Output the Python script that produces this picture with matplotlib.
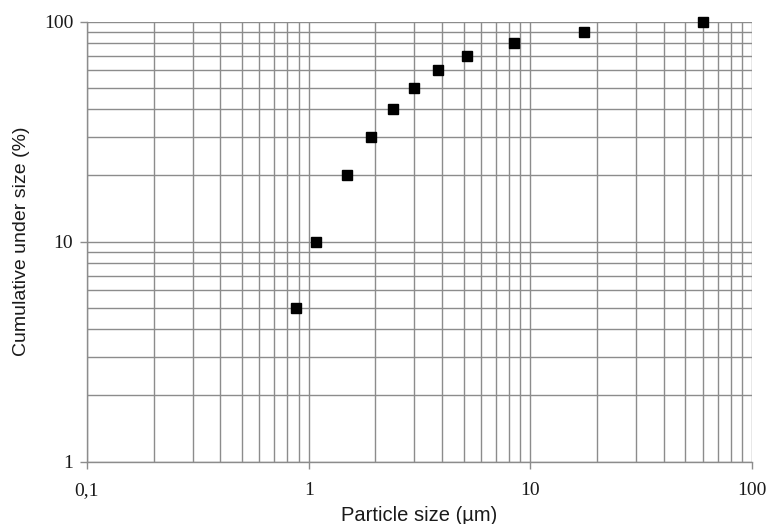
import numpy as np
import matplotlib.pyplot as plt
from matplotlib.ticker import LogLocator, FixedLocator, NullFormatter

# particle size distribution (cumulative undersize)
size_um = [0.88, 1.08, 1.49, 1.92, 2.39, 3.0, 3.82, 5.2, 8.4, 17.5, 60.0]
cum_pct = [5, 10, 20, 30, 40, 50, 60, 70, 80, 90, 100]

x_ticks = [0.1, 1, 10, 100]
x_ticklabels = ['0,1', '1', '10', '100']
y_ticks = [1, 10, 100]
y_ticklabels = ['1', '10', '100']

grid_col = '#8c8c8c'
text_col = '#1a1a1a'

fig = plt.figure(figsize=(7.67, 5.24), dpi=100)
ax = fig.add_axes([87/767, 1 - 461.5/524, 665/767, 440/524])

ax.set_xscale('log')
ax.set_yscale('log')
ax.set_xlim(0.1, 100)
ax.set_ylim(1, 100)

ax.plot(size_um, cum_pct, linestyle='none', marker='s', markersize=7.5,
        color='black', zorder=5, clip_on=False)

ax.xaxis.set_major_locator(FixedLocator(x_ticks))
ax.yaxis.set_major_locator(FixedLocator(y_ticks))
ax.xaxis.set_minor_locator(LogLocator(base=10, subs=np.arange(2, 10)))
ax.yaxis.set_minor_locator(LogLocator(base=10, subs=np.arange(2, 10)))
ax.set_xticklabels(x_ticklabels)
ax.set_yticklabels(y_ticklabels)
ax.xaxis.set_minor_formatter(NullFormatter())
ax.yaxis.set_minor_formatter(NullFormatter())

ax.grid(True, which='both', color=grid_col, linewidth=1.0)
ax.set_axisbelow(True)

for side in ['top', 'right']:
    ax.spines[side].set_visible(False)
for side in ['left', 'bottom']:
    ax.spines[side].set_color(grid_col)
    ax.spines[side].set_linewidth(1.0)

ax.tick_params(which='major', length=5, width=1, color=grid_col,
               labelsize=14, labelcolor=text_col)
ax.tick_params(axis='x', which='major', pad=10)
ax.tick_params(axis='y', which='major', pad=5)
ax.tick_params(which='minor', length=0)
for lab in ax.get_xticklabels() + ax.get_yticklabels():
    lab.set_family('Liberation Serif')

ax.set_xlabel('Particle size (µm)', family='Liberation Sans', fontsize=14.5,
              color=text_col, labelpad=5)
ax.set_ylabel('Cumulative under size (%)', family='Liberation Sans', fontsize=14,
              color=text_col, labelpad=10)

fig.savefig('out.png', dpi=100)
